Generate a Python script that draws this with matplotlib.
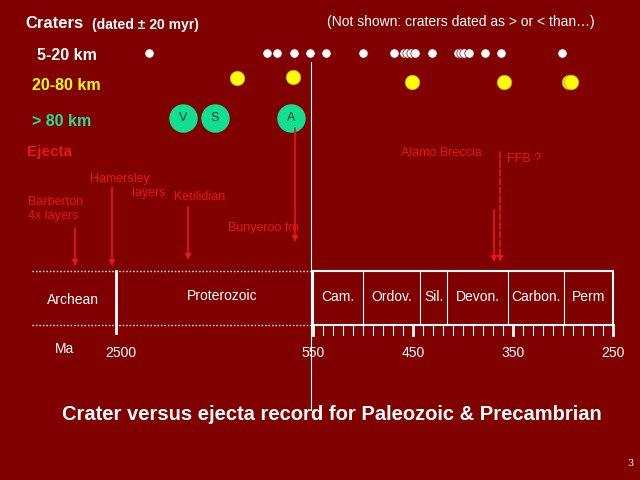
import matplotlib
matplotlib.use("Agg")
import matplotlib.pyplot as plt
import numpy as np

plt.rcParams['font.family'] = ['Liberation Sans', 'DejaVu Sans']

# ---- data (ages in Ma) ----
small_craters = [2173, 1005, 906, 738, 580, 537, 500, 469, 459, 456, 452, 448, 431,
                 405, 402, 399, 394, 378, 362, 301]
mid_craters = [1302, 748, 451, 359, 294, 292]
mid_rows = [78, 77, 82, 82, 82, 82]
big_craters = [1837, 1520, 768]
big_labels = ["V", "S", "A"]
ejecta_names = ["Barberton\n4x layers", "Hamersley\n            layers", "Ketilidian", "Bunyeroo fm", "Alamo Breccia", "FFB ?"]
ejecta_ages = [2906, 2540, 1787, 728, 369, 363]
periods = ["Cam.", "Ordov.", "Sil.", "Devon.", "Carbon.", "Perm"]
period_bounds = [550, 500, 443, 416, 355, 299, 250]
tick_ages = [2500, 550, 450, 350, 250]

def X(age):
    age = np.asarray(age, dtype=float)
    return np.where(age >= 550, 313 - (age - 550) / 9.9, 313 + (550 - age) * 1.0)

BG = '#800000'
RED = '#e8161a'
fig = plt.figure(figsize=(6.4, 4.8), dpi=100, facecolor=BG)
ax = fig.add_axes([0, 0, 1, 1])
ax.set_facecolor(BG)
ax.set_xlim(0, 640); ax.set_ylim(480, 0); ax.axis('off')

ax.text(25, 24, "Craters", color='white', fontsize=12, fontweight='bold', va='center')
ax.text(92, 25, "(dated ± 20 myr)", color='white', fontsize=10, fontweight='bold', va='center')
ax.text(327, 22, "(Not shown: craters dated as > or < than…)", color='white', fontsize=10, va='center')
ax.text(37, 55, "5-20 km", color='white', fontsize=11.5, fontweight='bold', va='center')
ax.text(32, 86, "20-80 km", color='#ffff00', fontsize=11.5, fontweight='bold', va='center')
ax.text(32, 121, "> 80 km", color='#22e090', fontsize=11.5, fontweight='bold', va='center')
ax.text(27, 152, "Ejecta", color=RED, fontsize=11, fontweight='bold', va='center')

# vertical guide line
ax.plot([311, 311], [62, 410], color='white', lw=0.8)

ax.scatter(X(small_craters), [53] * len(small_craters), s=45, color='white', edgecolor=BG, lw=0.5, zorder=3)
ax.scatter(X(mid_craters), mid_rows, s=110, color='#ffff00', edgecolor='#c0a000', lw=0.5, zorder=3)
for a, lab in zip(big_craters, big_labels):
    ax.scatter(X(a), 118, s=380, color='#10e090', zorder=3)
    ax.text(X(a), 118, lab, ha='center', va='center', fontsize=9, color='#104030', zorder=4)

# ejecta arrows
starts = [228, 187, 207, 128, 210, 152]
ends = [266, 266, 260, 242, 262, 262]
pos = [(28, 209), (90, 186), (174, 197), (228, 228), (401, 153), (507, 159)]
for i, (name, age) in enumerate(zip(ejecta_names, ejecta_ages)):
    x = float(X(age))
    ls = '--' if i == 5 else '-'
    ax.annotate('', xy=(x, ends[i]), xytext=(x, starts[i]),
                arrowprops=dict(arrowstyle='-|>', color=RED, lw=1.2, ls=ls, mutation_scale=8, shrinkA=0, shrinkB=0))
    px, py = pos[i]
    ax.text(px, py, name, color=RED, fontsize=9, ha='left', va='center', linespacing=1.3)

# time bar
ax.plot([32, 313], [271, 271], color='white', lw=1, ls=(0, (1, 1.5)))
ax.plot([32, 313], [325, 325], color='white', lw=1, ls=(0, (1, 1.5)))
ax.plot([X(2500)] * 2, [271, 333], color='white', lw=2)
x0, x1 = float(X(550)), float(X(250))
ax.plot([x0, x1, x1, x0, x0], [271, 271, 325, 325, 271], color='white', lw=1.5)
for b in period_bounds[1:-1]:
    ax.plot([X(b)] * 2, [271, 325], color='white', lw=0.8)
for i, name in enumerate(periods):
    xm = (float(X(period_bounds[i])) + float(X(period_bounds[i + 1]))) / 2
    ax.text(xm, 297, name, color='white', fontsize=10, ha='center', va='center')
ax.text(73, 300, "Archean", color='white', fontsize=10, ha='center', va='center')
ax.text(222, 296, "Proterozoic", color='white', fontsize=10, ha='center', va='center')
for a in range(550, 249, -10):
    w = 2 if a in (450, 350, 550, 250) else 0.8
    ax.plot([X(a)] * 2, [325, 335], color='white', lw=w)
ax.text(65, 349, "Ma", color='white', fontsize=10, ha='center', va='center')
for t in tick_ages:
    ax.text(float(X(t)) + (5 if t == 2500 else 0), 353, str(t), color='white', fontsize=10, ha='center', va='center')

ax.text(332, 415, "Crater versus ejecta record for Paleozoic & Precambrian", color='white',
        fontsize=14.5, fontweight='bold', ha='center', va='center')
ax.text(630, 463, "3", color='white', fontsize=7, family='DejaVu Serif', ha='center', va='center')

fig.savefig("out.png", dpi=100, facecolor=BG)
